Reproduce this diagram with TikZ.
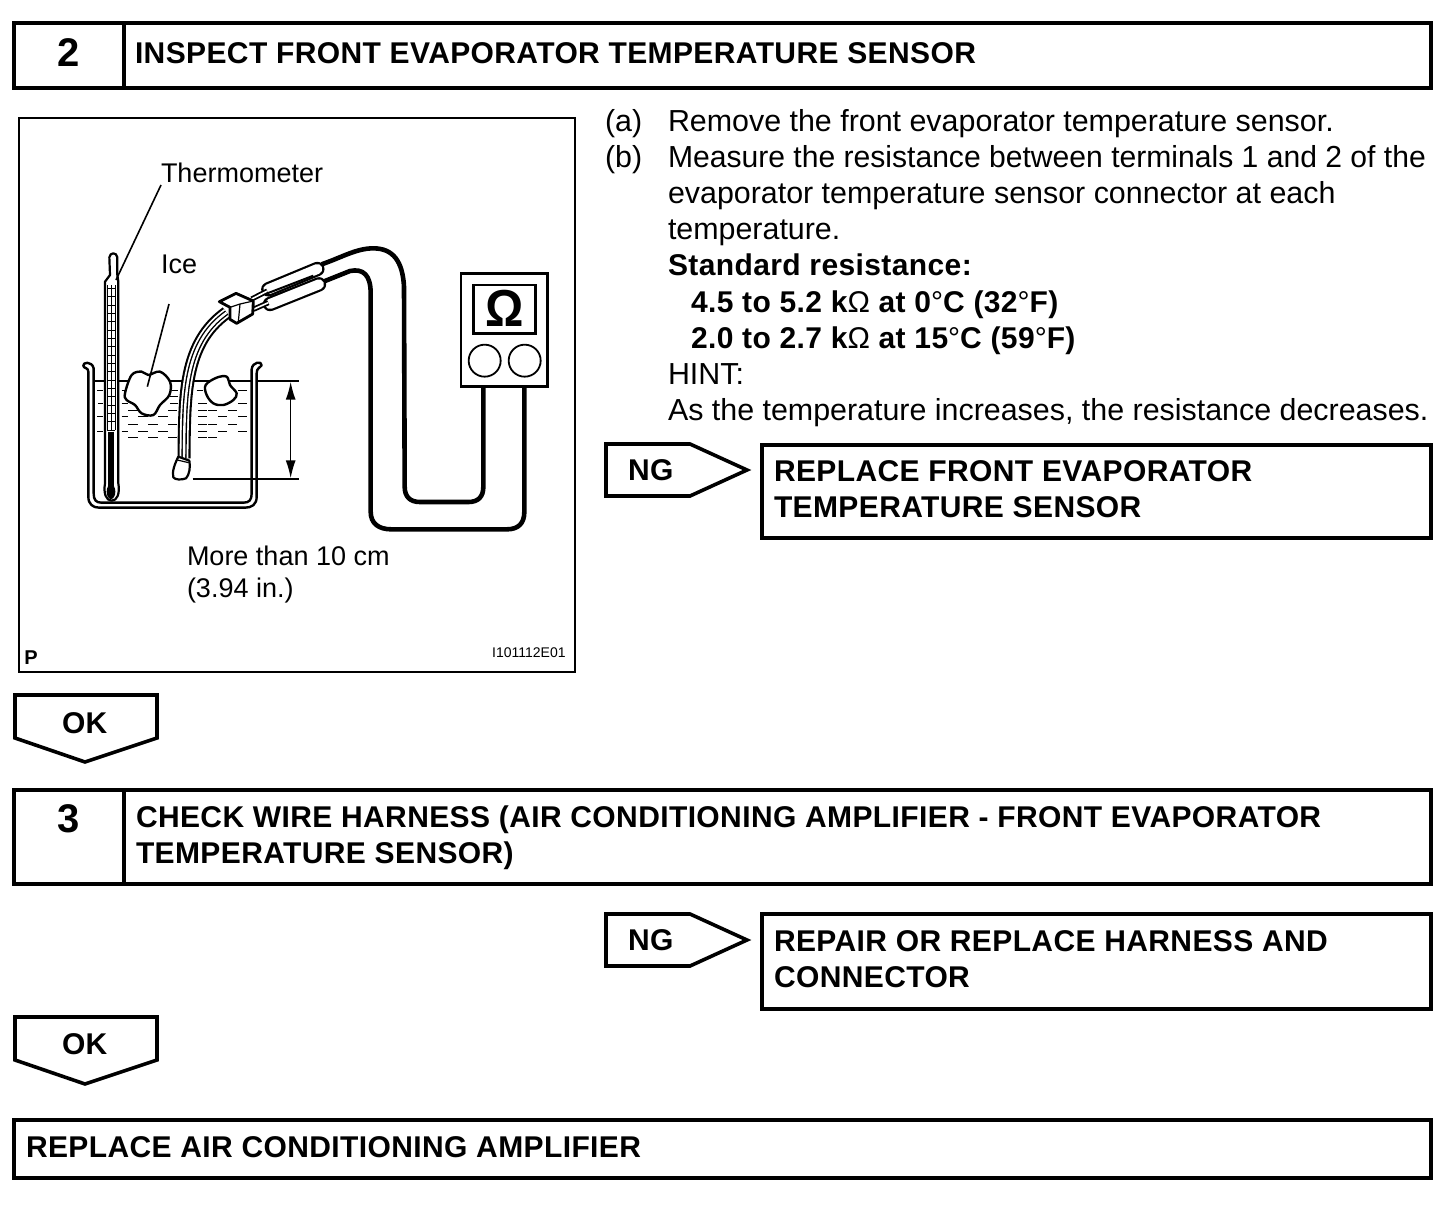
\documentclass[tikz,border=0pt]{standalone}
\usepackage{fontspec}
\setmainfont{Liberation Sans}
\usetikzlibrary{arrows.meta}
\newfontfamily\lbold[LetterSpace=1.3]{Liberation Sans Bold}
\newfontfamily\lreg{Liberation Sans}
\tikzset{
 tx/.style={anchor=base west,inner sep=0pt,outer sep=0pt,font=\fontsize{15.2}{18}\selectfont},
 txb/.style={anchor=base west,inner sep=0pt,outer sep=0pt,font=\fontsize{15}{18}\selectfont\lbold},
 num/.style={anchor=base,inner sep=0pt,font=\fontsize{20}{24}\selectfont\bfseries},
 lab/.style={anchor=base west,inner sep=0pt,outer sep=0pt,font=\fontsize{13.5}{16}\selectfont},
 box/.style={draw=black,line width=2pt,line join=miter},
 flag/.style={draw=black,line width=1.8pt,line join=miter},
 leader/.style={line width=0.8pt},
 wire/.style={line width=2.3pt,line join=round},
 outl/.style={line width=1.1pt,line join=round,fill=white},
 glass/.style={line width=1.2pt,line join=round},
 ripple/.style={line width=0.5pt},
 dimtip/.style={-{Latex[length=9pt,width=5pt]}},
}
\newcommand{\omg}{{\lreg Ω}}
\newcommand{\dg}{{\lreg °}}
\begin{document}
\begin{tikzpicture}[x=0.5pt,y=-0.5pt]
\useasboundingbox[fill=white] (0,0) rectangle (1456,1210);
% ---------- header 2
\draw[box] (14,23) rectangle (1431,88);
\draw[box] (124,23) -- (124,88);
\node[num] (n2) at (69,66) {2};
\node[txb] (h2) at (135,63) {INSPECT FRONT EVAPORATOR TEMPERATURE SENSOR};
% ---------- frame
\draw[line width=1.2pt] (19,118) rectangle (575,672);
\node[lab] (lth) at (161,182) {Thermometer};
\node[lab] (lice) at (161,273) {Ice};
\node[lab] (lm) at (187,565) {More than 10 cm};
\node[lab] (li) at (187,597) {(3.94 in.)};
\node[anchor=base west,inner sep=0pt,font=\fontsize{10}{12}\selectfont\bfseries] (lp) at (24,664) {P};
\node[anchor=base east,inner sep=0pt,font=\fontsize{7}{9}\selectfont] (lid) at (566,657) {I101112E01};
% ---------- illustration, right part
\begin{scope}[shift={(210,230)},x=0.16667pt,y=-0.16667pt]
 \draw[wire] (335,103) .. controls (400,80) and (440,55) .. (490,55) .. controls (550,55) and (578,95) .. (582,170) -- (584,770) .. controls (584,800) and (600,816) .. (630,816) -- (775,816) .. controls (805,816) and (820,800) .. (820,770) -- (820,470);
 \draw[wire] (340,155) -- (420,123) .. controls (460,115) and (482,135) .. (482,190) -- (482,845) .. controls (482,880) and (505,898) .. (545,898) -- (890,898) .. controls (925,898) and (943,880) .. (943,845) -- (943,470);
 % meter
 \draw[line width=1.3pt,fill=white] (753,130) rectangle (1013,470);
 \draw[line width=1.3pt] (790,165) rectangle (977,310);
 \node[inner sep=0pt,font=\fontsize{26}{30}\selectfont\bfseries,xscale=0.92,transform shape,anchor=center] (om) at (885,236) {Ω};
 \draw[line width=0.9pt] (824,392) circle[radius=48];
 \draw[line width=0.9pt] (944,392) circle[radius=48];
 % sleeves
 \foreach \ax/\ay/\bx/\by in {175/178/322/117, 180/222/327/163}{
  \draw[line width=7.2pt,line cap=round] (\ax,\ay) -- (\bx,\by);
  \draw[white,line width=5pt,line cap=round] (\ax,\ay) -- (\bx,\by);
 }
 % wires between connector and sleeves
 \draw[line width=2.6pt] (125,207) -- (172,183);
 \draw[white,line width=0.8pt] (125,207) -- (172,183);
 \draw[line width=2.6pt] (130,238) -- (175,218);
 \draw[white,line width=0.8pt] (130,238) -- (175,218);
 \draw[line width=1pt] (172,190) -- (310,137);
\end{scope}
% ---------- illustration, left part
\begin{scope}[shift={(60,230)},x=0.16667pt,y=-0.16667pt]
 % water surface
 \draw[line width=1.2pt] (100,453) -- (578,453);
 % ripples
 \draw[ripple] (112,480)--(128,480) (185,480)--(195,480) (335,480)--(355,480) (410,480)--(430,480) (535,480)--(560,480)
  (330,500)--(355,500) (115,520)--(130,520) (185,520)--(205,520) (330,520)--(355,520) (415,520)--(440,520) (535,520)--(560,520)
  (205,540)--(235,540) (325,540)--(352,540) (415,540)--(440,540) (445,540)--(472,540) (505,540)--(530,540)
  (112,560)--(130,560) (185,560)--(205,560) (235,560)--(265,560) (295,560)--(325,560) (415,560)--(440,560) (475,560)--(500,560) (535,560)--(560,560)
  (205,583)--(235,583) (265,583)--(295,583) (325,583)--(352,583) (415,583)--(440,583) (445,583)--(472,583) (505,583)--(530,583)
  (112,603)--(130,603) (185,603)--(205,603) (235,603)--(265,603) (295,603)--(325,603) (415,603)--(440,603) (475,603)--(500,603) (535,603)--(560,603)
  (205,622)--(235,622) (265,622)--(295,622) (325,622)--(352,622) (415,622)--(440,622) (445,622)--(472,622);
 % beaker (double wall, one closed outline)
 \draw[glass] (70,408) .. controls (66,396) and (96,392) .. (101,415) -- (101,790) .. controls (101,810) and (108,818) .. (125,818) -- (550,818) .. controls (568,818) and (575,810) .. (575,790) -- (575,418) .. controls (577,395) and (606,392) .. (605,406) .. controls (600,416) and (590,412) .. (590,430) -- (590,800) .. controls (590,824) and (575,833) .. (555,833) -- (118,833) .. controls (98,833) and (85,822) .. (85,800) -- (85,425) .. controls (85,412) and (72,416) .. (70,408) -- cycle;
 % ice
 \draw[outl,line width=1.2pt] plot[smooth cycle,tension=0.6] coordinates {(195,490) (215,435) (245,425) (265,435) (300,425) (330,455) (328,495) (300,525) (280,555) (245,550) (225,525) (200,510)};
 \draw[outl,line width=1.2pt] plot[smooth cycle,tension=0.6] coordinates {(437,465) (470,443) (500,440) (510,465) (530,490) (520,510) (490,525) (460,520) (440,495)};
 % thermometer
 \draw[outl] (135,155) -- (150,135) -- (148,82) .. controls (150,66) and (170,66) .. (172,82) -- (172,135) -- (175,155) -- (175,760) .. controls (180,790) and (172,812) .. (155,812) .. controls (138,812) and (130,790) .. (135,760) -- cycle;
 \draw[line width=0.5pt] (141,165) -- (141,600) (165,165) -- (165,600) (153,165) -- (153,600);
 \foreach \ty in {175,200,...,600} \draw[line width=0.5pt] (141,\ty) -- (165,\ty);
 \draw[line width=3pt] (153,605) -- (153,770);
 \fill (153,785) ellipse[x radius=13,y radius=22];
 % probe tube
 \def\tube{(372,685) .. controls (374,500) and (370,340) .. (500,248)}
 \draw[line width=6.5pt] \tube;
 \draw[white,line width=4.4pt] \tube;
 \draw[line width=2.6pt] \tube;
 \draw[white,line width=1.2pt] \tube;
 \draw[outl] (355,680) -- (388,692) .. controls (392,710) and (388,735) .. (378,745) .. controls (365,750) and (345,750) .. (340,742) .. controls (335,725) and (345,700) .. (355,680) -- cycle;
 \draw[line width=0.6pt] (352,690) -- (386,698);
 % connector
 \draw[outl,line width=1.4pt] (478,215) -- (528,190) -- (580,213) -- (578,252) -- (530,280) -- (510,268) -- (510,232) -- cycle;
 \draw[line width=0.6pt] (510,232) -- (540,222) -- (580,213) (540,222) -- (535,275);
 % leaders
 \draw[leader] (303,-135) -- (168,150);
 \draw[leader] (327,222) -- (262,470);
 % dimension
 \draw[leader] (590,453) -- (718,453) (398,747) -- (718,747);
 \draw[leader,dimtip] (692,600) -- (692,455);
 \draw[leader,dimtip] (692,600) -- (692,745);
\end{scope}
% ---------- right text
\node[tx] (a1) at (605,131) {(a)};
\node[tx] (a2) at (668,131) {Remove the front evaporator temperature sensor.};
\node[tx] (b1) at (605,167) {(b)};
\node[tx,xscale=0.99,transform shape] (b2) at (668,167) {Measure the resistance between terminals 1 and 2 of the};
\node[tx] (b3) at (668,203) {evaporator temperature sensor connector at each};
\node[tx] (b4) at (668,239) {temperature.};
\node[txb] (sr) at (668,275) {Standard resistance:};
\node[txb] (v1) at (691,312) {4.5 to 5.2 k\omg\ at 0\dg C (32\dg F)};
\node[txb] (v2) at (691,348) {2.0 to 2.7 k\omg\ at 15\dg C (59\dg F)};
\node[tx] (hn) at (668,384) {HINT:};
\node[tx] (ht) at (668,420) {As the temperature increases, the resistance decreases.};
% ---------- NG 1
\draw[flag] (606,444) -- (690,444) -- (747,470) -- (690,496) -- (606,496) -- cycle;
\node[txb] (ng1) at (628,480) {NG};
\draw[box] (762,445) rectangle (1431,538);
\node[txb] (r1a) at (774,481) {REPLACE FRONT EVAPORATOR};
\node[txb] (r1b) at (774,517) {TEMPERATURE SENSOR};
% ---------- OK 1
\draw[flag] (15,695) -- (157,695) -- (157,738) -- (85,762) -- (15,738) -- cycle;
\node[txb] (ok1) at (62,733) {OK};
% ---------- header 3
\draw[box] (14,790) rectangle (1431,884);
\draw[box] (124,790) -- (124,884);
\node[num] (n3) at (69,832) {3};
\node[txb] (h3a) at (136,827) {CHECK WIRE HARNESS (AIR CONDITIONING AMPLIFIER - FRONT EVAPORATOR};
\node[txb] (h3b) at (136,863) {TEMPERATURE SENSOR)};
% ---------- NG 2
\draw[flag] (606,914) -- (690,914) -- (747,940) -- (690,966) -- (606,966) -- cycle;
\node[txb] (ng2) at (628,950) {NG};
\draw[box] (762,914) rectangle (1431,1009);
\node[txb] (r2a) at (774,951) {REPAIR OR REPLACE HARNESS AND};
\node[txb] (r2b) at (774,987) {CONNECTOR};
% ---------- OK 2
\draw[flag] (15,1017) -- (157,1017) -- (157,1060) -- (85,1084) -- (15,1060) -- cycle;
\node[txb] (ok2) at (62,1054) {OK};
% ---------- last
\draw[box] (14,1120) rectangle (1431,1178);
\node[txb] (last) at (26,1157) {REPLACE AIR CONDITIONING AMPLIFIER};
\end{tikzpicture}
\end{document}
